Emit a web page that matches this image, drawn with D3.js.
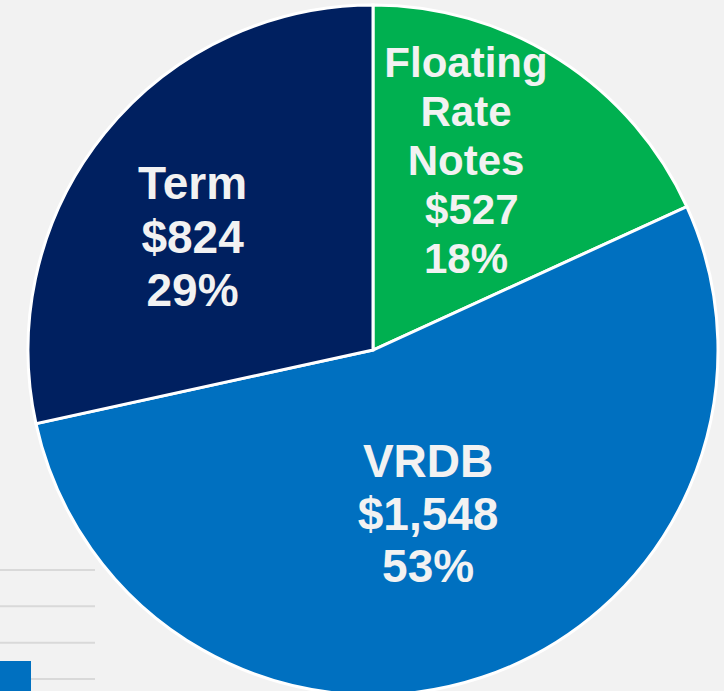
<!DOCTYPE html>
<html>
<head>
<meta charset="utf-8">
<script src="https://cdn.jsdelivr.net/npm/d3@7"></script>
<style>
  html, body { margin: 0; padding: 0; background: #F2F2F2; }
  svg { display: block; }
  text { font-family: Arial, "Liberation Sans", sans-serif; font-weight: bold; fill: #F2F2F2; }
</style>
</head>
<body>
<svg id="chart" width="724" height="691"></svg>
<script>
// Data
const categories = ["Floating Rate Notes", "VRDB", "Term"];
const amounts = [527, 1548, 824];
const percents = ["18%", "53%", "29%"];
const amountLabels = ["$527", "$1,548", "$824"];
const nameLines = [["Floating", "Rate", "Notes"], ["VRDB"], ["Term"]];
const colors = ["#00B050", "#0070C0", "#002060"];
// Fragments of a partially visible legend table at the lower left
const legendRuleRows = [0, 1, 2, 3];

const svg = d3.select("#chart");
const W = 724, H = 691;
const cx = 373, cy = 350, R = 345;

svg.append("rect").attr("width", W).attr("height", H).attr("fill", "#F2F2F2");

// Lower-left legend fragment
const ruleY = d3.scalePoint().domain(legendRuleRows).range([570, 679]);
svg.selectAll("line.rule").data(legendRuleRows).enter().append("line")
  .attr("class", "rule")
  .attr("x1", 0).attr("x2", 95)
  .attr("y1", d => ruleY(d)).attr("y2", d => ruleY(d))
  .attr("stroke", "#D9D9D9").attr("stroke-width", 2);
svg.append("rect").attr("x", 0).attr("y", 661).attr("width", 31).attr("height", 30).attr("fill", colors[1]);

const data = categories.map((c, i) => ({
  name: c, value: amounts[i], pct: percents[i], amt: amountLabels[i],
  lines: nameLines[i], color: colors[i]
}));

const pie = d3.pie().sort(null).value(d => d.value);
const arcs = pie(data);
const arc = d3.arc().innerRadius(0).outerRadius(R);

const g = svg.append("g").attr("transform", `translate(${cx},${cy})`);
g.selectAll("path").data(arcs).enter().append("path")
  .attr("d", arc)
  .attr("fill", d => d.data.color)
  .attr("stroke", "#FFFFFF")
  .attr("stroke-width", 3)
  .attr("stroke-linejoin", "miter");

// Label placement (polar offset from slice mid-angle)
const labelRadius = [198, 188, 205];
const angleOffsetDeg = [-4.7, 1.4, -10.5];
const fontSizes = [42, 46, 46];
const lineHeights = [49, 52.5, 53.5];

arcs.forEach((a, i) => {
  const lines = a.data.lines.concat([(i === 0 ? "\u00a0" : "") + a.data.amt, a.data.pct]);
  const mid = (a.startAngle + a.endAngle) / 2 + angleOffsetDeg[i] * Math.PI / 180;
  const r = labelRadius[i];
  const x = Math.sin(mid) * r;
  const y = -Math.cos(mid) * r;
  const lh = lineHeights[i];
  const fs = fontSizes[i];
  const total = (lines.length - 1) * lh;
  const t = g.append("text")
    .attr("text-anchor", "middle")
    .style("font-size", fs + "px")
    .style("white-space", "pre");
  lines.forEach((ln, k) => {
    t.append("tspan")
      .attr("x", x)
      .attr("y", y - total / 2 + k * lh)
      .text(ln);
  });
});
</script>
</body>
</html>
